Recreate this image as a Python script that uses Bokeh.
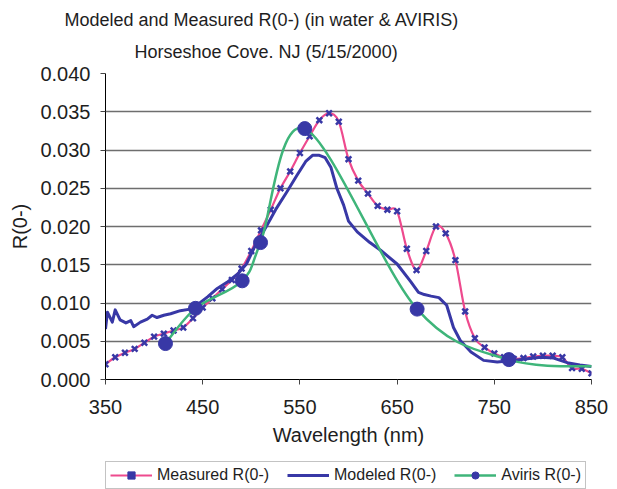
import numpy as np
from bokeh.plotting import figure
from bokeh.layouts import column
from bokeh.models import (Range1d, FixedTicker, NumeralTickFormatter, Title,
                          Legend, LegendItem)
from bokeh.embed import file_html
from bokeh.resources import INLINE

# ---------------- data ----------------
measured_wl = [350, 360, 370, 380, 390, 400, 410, 420, 430, 440, 450, 460, 470,
               480, 490, 500, 510, 520, 530, 540, 550, 560, 570, 580, 590, 600,
               610, 620, 630, 640, 650, 660, 670, 680, 690, 700, 710, 720, 730,
               740, 750, 760, 770, 780, 790, 800, 810, 820, 830, 840, 850]
measured_r = [0.0020, 0.0029, 0.0035, 0.0040, 0.0048, 0.0056, 0.0060, 0.0064,
              0.0068, 0.0080, 0.0094, 0.0106, 0.0118, 0.0130, 0.0145, 0.0168,
              0.0195, 0.0222, 0.0250, 0.0272, 0.0296, 0.0318, 0.0339, 0.0348,
              0.0337, 0.0288, 0.0260, 0.0243, 0.0227, 0.0222, 0.0220, 0.0171,
              0.0143, 0.0168, 0.0200, 0.0191, 0.0156, 0.0089, 0.0054, 0.0042,
              0.0034, 0.0029, 0.0027, 0.0028, 0.0030, 0.0031, 0.0031, 0.0029,
              0.0015, 0.0014, 0.0008]

modeled_wl = [350, 352, 357, 360, 365, 371, 376, 379, 386, 393, 398, 403, 410,
              417, 427, 437, 444, 455, 465, 475, 486, 495, 504, 515, 525, 537,
              547, 556, 563, 570, 576, 582, 588, 595, 600, 609, 622, 633, 650,
              664, 672, 678, 685, 693, 701, 708, 715, 726, 739, 753, 770, 784,
              798, 811, 825, 838, 850]
modeled_r = [0.0066, 0.0088, 0.0075, 0.0091, 0.0078, 0.0074, 0.0077, 0.0069,
             0.0075, 0.0079, 0.0084, 0.0081, 0.0084, 0.0086, 0.0090, 0.0092,
             0.0097, 0.0108, 0.0119, 0.0127, 0.0138, 0.0151, 0.0175, 0.0199,
             0.0222, 0.0246, 0.0267, 0.0285, 0.0293, 0.0293, 0.0290, 0.0277,
             0.0250, 0.0228, 0.0207, 0.0193, 0.0179, 0.0169, 0.0151, 0.0128,
             0.0114, 0.0111, 0.0109, 0.0107, 0.0097, 0.0068, 0.0051, 0.0036,
             0.0025, 0.0023, 0.0025, 0.0027, 0.0029, 0.0028, 0.0022, 0.0019,
             0.0017]

aviris_wl = [411.7, 442.6, 490.6, 509.5, 555.0, 670.6, 765.0, 862.0]
aviris_r = [0.0047, 0.0093, 0.0129, 0.0179, 0.0328, 0.0092, 0.0026, 0.0017]

x_ticks = [350, 450, 550, 650, 750, 850]
y_ticks = [0.000, 0.005, 0.010, 0.015, 0.020, 0.025, 0.030, 0.035, 0.040]

title_line1 = "Modeled and Measured R(0-) (in water & AVIRIS)"
title_line2 = "Horseshoe Cove. NJ (5/15/2000)"
legend_labels = ["Measured R(0-)", "Modeled R(0-)", "Aviris R(0-)"]

FONT = "Liberation Sans"
PINK = "#ee4a8e"
NAVY = "#3838a6"
GREEN = "#3fb57a"
TXT = "#1e1e1e"


def smooth_segments(xs, ys):
    """Catmull-Rom (Excel style smoothed line) as cubic bezier segments."""
    x = np.asarray(xs, float)
    y = np.asarray(ys, float)
    n = len(x)
    xp = np.concatenate([[x[0]], x, [x[-1]]])
    yp = np.concatenate([[y[0]], y, [y[-1]]])
    cx0 = x[:-1] + (xp[2:n + 1] - xp[0:n - 1]) / 6.0
    cy0 = y[:-1] + (yp[2:n + 1] - yp[0:n - 1]) / 6.0
    cx1 = x[1:] - (xp[3:n + 2] - xp[1:n]) / 6.0
    cy1 = y[1:] - (yp[3:n + 2] - yp[1:n]) / 6.0
    return dict(x0=x[:-1], y0=y[:-1], x1=x[1:], y1=y[1:],
                cx0=cx0, cy0=cy0, cx1=cx1, cy1=cy1)


p = figure(width=617, height=455, output_backend="svg", toolbar_location=None,
           x_range=Range1d(350, 850), y_range=Range1d(0, 0.040),
           min_border_left=105, min_border_right=26, min_border_top=73,
           min_border_bottom=76, title=None)
p.outline_line_color = None
p.background_fill_color = "white"
p.border_fill_color = "white"

# titles (first added sits nearest the plot)
t2 = Title(text=title_line2, align="left", offset=29, text_font=FONT,
           text_font_size="18px", text_font_style="normal",
           text_color=TXT, standoff=23)
t1 = Title(text=title_line1, align="left", offset=-41, text_font=FONT,
           text_font_size="18px", text_font_style="normal",
           text_color=TXT, standoff=-3)
p.add_layout(t2, "above")
p.add_layout(t1, "above")

# axes
p.xaxis.ticker = FixedTicker(ticks=x_ticks)
p.yaxis.ticker = FixedTicker(ticks=y_ticks)
p.yaxis.formatter = NumeralTickFormatter(format="0.000")
for ax in (p.xaxis, p.yaxis):
    ax.axis_line_color = "black"
    ax.axis_line_width = 1
    ax.major_tick_line_color = "#444444"
    ax.major_tick_out = 5
    ax.major_tick_in = 0
    ax.minor_tick_line_color = None
    ax.major_label_text_font = FONT
    ax.major_label_text_font_size = "20px"
    ax.major_label_text_color = TXT
    ax.axis_label_text_font = FONT
    ax.axis_label_text_font_size = "20px"
    ax.axis_label_text_font_style = "normal"
    ax.axis_label_text_color = TXT
p.xaxis.axis_label = "Wavelength (nm)"
p.yaxis.axis_label = "R(0-)"
p.xaxis.major_label_standoff = 15
p.xaxis.axis_label_standoff = 7
p.yaxis.major_label_standoff = 10
p.yaxis.axis_label_standoff = 6

p.xgrid.grid_line_color = None
p.ygrid.ticker = FixedTicker(ticks=y_ticks)
p.ygrid.grid_line_color = "#555555"
p.ygrid.grid_line_width = 1.5
p.ygrid.grid_line_alpha = 0.85

# measured
ms = smooth_segments(measured_wl, measured_r)
p.bezier(x0="x0", y0="y0", x1="x1", y1="y1", cx0="cx0", cy0="cy0",
         cx1="cx1", cy1="cy1", source=ms, line_color=PINK, line_width=2.2)
p.scatter(measured_wl, measured_r, marker="x", size=8,
          line_color=NAVY, line_width=2.5)

# modeled
p.line(modeled_wl, modeled_r, line_color=NAVY, line_width=3,
       line_join="round")

# aviris
av = smooth_segments(aviris_wl, aviris_r)
p.bezier(x0="x0", y0="y0", x1="x1", y1="y1", cx0="cx0", cy0="cy0",
         cx1="cx1", cy1="cy1", source=av, line_color=GREEN, line_width=2.5)
p.scatter(aviris_wl, aviris_r, marker="circle", size=14,
          fill_color=NAVY, line_color=NAVY)

# ---- legend strip (separate small canvas below the chart) ----
# its ranges leave the series outside the strip's view, so only the legend
# samples of the same series styles are seen
lg = figure(width=617, height=34, output_backend="svg", toolbar_location=None,
            x_range=Range1d(0, 1), y_range=Range1d(0, 1),
            x_axis_type=None, y_axis_type=None, min_border=0, title=None)
lg.outline_line_color = None
lg.xgrid.grid_line_color = None
lg.ygrid.grid_line_color = None
lg.border_fill_color = "white"

lr_meas_l = lg.line(measured_wl, measured_r, line_color=PINK, line_width=2.2)
lr_meas_m = lg.scatter(measured_wl, measured_r, marker="square", size=7,
                       fill_color=NAVY, line_color=NAVY)
lr_mod = lg.line(modeled_wl, modeled_r, line_color=NAVY, line_width=3)
lr_av_l = lg.line(aviris_wl, aviris_r, line_color=GREEN, line_width=2.5)
lr_av_m = lg.scatter(aviris_wl, aviris_r, marker="circle", size=10,
                     fill_color=NAVY, line_color=NAVY)

legend = Legend(items=[
    LegendItem(label=legend_labels[0], renderers=[lr_meas_l, lr_meas_m]),
    LegendItem(label=legend_labels[1], renderers=[lr_mod]),
    LegendItem(label=legend_labels[2], renderers=[lr_av_l, lr_av_m]),
], orientation="horizontal", location=(0, 0), padding=4, spacing=18,
    glyph_width=42, glyph_height=18, label_standoff=5, label_text_font=FONT,
    label_text_font_size="16px", label_text_color=TXT,
    border_line_color="#888888", border_line_width=1.5,
    background_fill_color="white", background_fill_alpha=1.0, margin=0)
lg.add_layout(legend)

layout = column(p, lg, spacing=0)
open("out.html", "w").write(file_html(layout, INLINE))
